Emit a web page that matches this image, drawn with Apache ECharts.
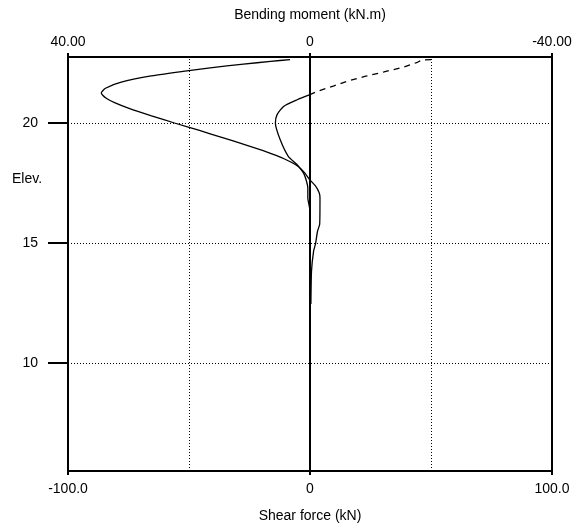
<!DOCTYPE html>
<html>
<head>
<meta charset="utf-8">
<script src="https://cdn.jsdelivr.net/npm/echarts@6/dist/echarts.min.js"></script>
<style>
  html, body { margin: 0; padding: 0; background: #fff; }
  #chart { width: 581px; height: 531px; }
</style>
</head>
<body>
<div id="chart"></div>
<script>
// bending moment profile (top axis, kN.m) vs elevation
var momentElev = [22.64, 22.57, 22.45, 22.30, 22.15, 21.95, 21.70, 21.45, 21.25, 21.05, 20.85, 20.60, 20.30, 20.00, 19.70, 19.40, 19.10, 18.80, 18.50, 18.20, 17.90, 17.65, 17.38, 17.10, 16.89, 15.78, 15.50, 14.95, 14.67, 13.83, 12.46];
var momentVal  = [3.3, 6.5, 11.0, 16.5, 21.0, 26.5, 31.2, 33.8, 34.5, 33.8, 32.3, 29.8, 26.2, 22.4, 18.4, 14.6, 10.8, 7.2, 4.2, 2.0, 0.8, 0.1, -0.9, -1.5, -1.65, -1.6, -1.25, -0.9, -0.6, -0.25, -0.15];

// shear force (bottom axis, kN): dashed upper part, then solid
var shearDashElev = [22.64, 22.63, 22.53, 22.33, 22.13, 21.95, 21.74, 21.55, 21.32, 21.18];
var shearDashVal  = [50.0, 46.5, 44.4, 38.8, 30.6, 23.0, 15.4, 9.9, 3.0, 0];
var shearElev = [21.18, 20.97, 20.70, 20.35, 20.00, 19.30, 18.60, 18.28, 17.86, 17.30, 16.89, 16.33, 12.46];
var shearVal  = [0, -5.3, -10.8, -13.6, -14.3, -12.3, -8.9, -5.5, -2.4, -0.9, -0.9, 0, 0];

var elevTicks = [10, 15, 20];
var shearTicks = [-100, 0, 100];
var momentTicks = [-40, 0, 40];
var shearGrid = [-50, 50];

function pairs(xs, ys) {
  var res = [];
  for (var i = 0; i < xs.length; i++) {
    res.push([xs[i], ys[i]]);
  }
  return res;
}

var font = 'Liberation Sans, Arial, sans-serif';
var dotted = { color: '#000', width: 1, type: [1, 2] };

var chart = echarts.init(document.getElementById('chart'), null, { renderer: 'canvas' });

var option = {
  animation: false,
  backgroundColor: '#fff',
  textStyle: { fontFamily: font },
  grid: {
    left: 68, right: 29, top: 57, bottom: 60,
    show: true, borderColor: '#000', borderWidth: 2, backgroundColor: 'transparent'
  },
  xAxis: [
    {
      type: 'value', position: 'bottom', min: -100, max: 100,
      name: 'Shear force (kN)', nameLocation: 'middle', nameGap: 38,
      nameTextStyle: { color: '#000', fontSize: 14, fontFamily: font },
      axisLine: { show: false, onZero: false },
      axisTick: { show: true, customValues: shearTicks, length: 4, lineStyle: { color: '#000', width: 2 } },
      axisLabel: {
        customValues: shearTicks, margin: 11, color: '#000', fontSize: 14, fontFamily: font,
        formatter: function (v) { return v === 0 ? '0' : v.toFixed(1); }
      },
      splitLine: { show: false }
    },
    {
      type: 'value', position: 'top', min: -40, max: 40, inverse: true,
      name: 'Bending moment (kN.m)', nameLocation: 'middle', nameGap: 35,
      nameTextStyle: { color: '#000', fontSize: 14, fontFamily: font },
      axisLine: { show: false, onZero: false },
      axisTick: { show: true, customValues: momentTicks, length: 4, lineStyle: { color: '#000', width: 2 } },
      axisLabel: {
        customValues: momentTicks, margin: 8, color: '#000', fontSize: 14, fontFamily: font,
        formatter: function (v) { return v === 0 ? '0' : v.toFixed(2); }
      },
      splitLine: { show: false }
    }
  ],
  yAxis: {
    type: 'value', min: 5.5, max: 22.75, position: 'left',
    axisLine: { show: false, onZero: false },
    axisTick: { show: true, customValues: elevTicks, length: 20, lineStyle: { color: '#000', width: 2 } },
    axisLabel: { customValues: elevTicks, margin: 30, color: '#000', fontSize: 14, fontFamily: font },
    splitLine: { show: false }
  },
  graphic: [
    { type: 'text', left: 12, top: 172, style: { text: 'Elev.', fill: '#000', font: '14px ' + font } }
  ],
  series: [
    {
      // grid lines and zero line
      type: 'line', xAxisIndex: 0, data: [], silent: true,
      markLine: {
        silent: true, symbol: 'none', label: { show: false },
        data: elevTicks.map(function (v) { return { yAxis: v, lineStyle: dotted }; })
          .concat(shearGrid.map(function (v) { return { xAxis: v, lineStyle: dotted }; }))
          .concat([{ xAxis: 0, lineStyle: { color: '#000', width: 2, type: 'solid' } }])
      }
    },
    {
      name: 'Bending moment', type: 'line', xAxisIndex: 1,
      data: pairs(momentVal, momentElev),
      showSymbol: false, smooth: 0.2,
      lineStyle: { color: '#000', width: 1.3 }
    },
    {
      name: 'Shear force', type: 'line', xAxisIndex: 0,
      data: pairs(shearDashVal, shearDashElev),
      showSymbol: false, smooth: false,
      lineStyle: { color: '#000', width: 1.3, type: [6, 5] }
    },
    {
      name: 'Shear force', type: 'line', xAxisIndex: 0,
      data: pairs(shearVal, shearElev),
      showSymbol: false, smooth: 0.2,
      lineStyle: { color: '#000', width: 1.3 }
    }
  ]
};

chart.setOption(option);
</script>
</body>
</html>
